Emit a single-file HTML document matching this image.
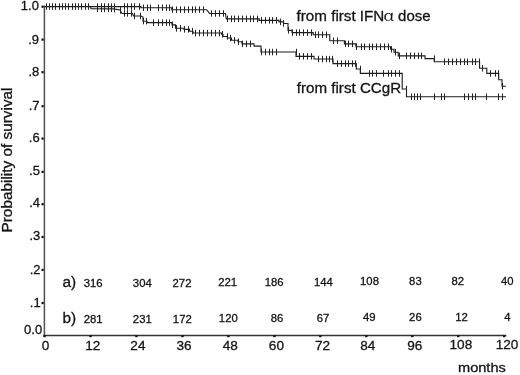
<!DOCTYPE html>
<html><head><meta charset="utf-8"><title>Survival</title>
<style>
html,body{margin:0;padding:0;background:#fff;}
svg{display:block;font-family:"Liberation Sans",sans-serif;fill:#141414;}
.c{fill:none;stroke:#1c1c1c;stroke-width:1.1;}
.t{fill:none;stroke:#222;stroke-width:1;}
.ay{fill:none;stroke:#505050;stroke-width:1.5;}
.ax{fill:none;stroke:#333;stroke-width:1.5;}
.d{fill:#111;}
.tl{font-size:13px;}
.xl{font-size:13.6px;}
text{stroke:#141414;stroke-width:0.3px;}
.m{font-size:13.4px;}
.yl{font-size:13.8px;}
.lb{font-size:15.4px;}
.n{font-size:11.3px;}
.al{font-size:15.4px;font-family:"Noto Serif CJK SC","Liberation Serif",serif;stroke-width:0.15px;}
</style></head><body>
<svg width="520" height="375" viewBox="0 0 520 375">
<path d="M44.4,5.5 V336.2" class="ay"/>
<path d="M43.6,335.5 H506.3" class="ax"/>
<path d="M44.4,6.6 L141,6.6 L141,7.8 L171.7,7.8 L171.7,9.7 L206.5,9.7 L208,11.4 L209.5,13.5 L225.5,13.5 L226.3,18.9 L259.2,18.9 L259.2,20.4 L279,20.4 L279,21.9 L283.6,21.9 L283.6,23.5 L288,23.5 L288,30.4 L292,30.4 L292,32.6 L313.2,32.6 L313.2,34.8 L329.8,34.8 L329.8,40.7 L344.4,40.7 L344.4,43.9 L355.9,43.9 L355.9,46.7 L390.6,46.7 L390.6,49.2 L394,49.2 L394,52.2 L398.2,52.2 L398.2,55.9 L425,55.9 L425,58.6 L434.2,58.6 L434.2,61.8 L479.6,61.8 L479.6,68.2 L486.8,68.2 L486.8,73.4 L498.7,73.4 L498.7,79.8 L502,79.8 L502,86.2 L506,86.2" class="c"/>
<path d="M90.5,6.6 L91,8.8 L113.5,8.9 L120,10 L122,13.5 L132.5,13.5 L133.6,16 L141,16 L143,17 L143,21.2 L147,21.2 L147,22.6 L172,22.6 L172,24.9 L175.5,24.9 L175.5,28.3 L184,28.3 L184,29.4 L189.5,29.4 L189.5,31.2 L193,31.2 L193,33 L221.5,33 L221.5,34.2 L223,34.2 L223,36.5 L227.3,36.5 L227.3,38 L231.5,38 L231.5,40.2 L238,40.2 L238,41.7 L242,41.7 L242,43.9 L254,43.9 L254,46.1 L261,46.1 L261,52 L296,52 L296,56.4 L314,56.4 L314,59 L333,59 L333,63.6 L356.3,63.6 L356.3,69 L360.3,69 L360.3,73.4 L402.2,73.4 L402.2,89 L406.5,89 L406.5,96.8 L506,96.8" class="c"/>
<path d="M46.5,3.3v6.5M49.5,3.3v6.5M52.5,3.3v6.5M55.5,3.3v6.5M59.5,3.3v6.5M62.5,3.3v6.5M65.5,3.3v6.5M68.5,3.3v6.5M72.5,3.3v6.5M75.5,3.3v6.5M78.5,3.3v6.5M81.5,3.3v6.5M85.5,3.3v6.5M88.5,3.3v6.5M97.5,3.3v6.5M101.5,3.3v6.5M104.5,3.3v6.5M108.5,3.3v6.5M111.5,3.3v6.5M114.5,3.3v6.5M124.5,3.3v6.5M127.5,3.3v6.5M131.5,3.3v6.5M134.5,3.3v6.5M139.5,3.3v6.5M143.5,4.5v6.5M147.5,4.5v6.5M150.5,4.5v6.5M158.5,4.5v6.5M162.5,4.5v6.5M166.5,4.5v6.5M169.5,4.5v6.5M172.5,6.4v6.5M176.5,6.4v6.5M180.5,6.4v6.5M184.5,6.4v6.5M188.5,6.4v6.5M192.5,6.4v6.5M195.5,6.4v6.5M199.5,6.4v6.5M203.5,6.4v6.5M211.5,10.2v6.5M215.5,10.2v6.5M219.5,10.2v6.5M223.5,10.2v6.5M227.5,15.6v6.5M231.5,15.6v6.5M234.5,15.6v6.5M238.5,15.6v6.5M242.5,15.6v6.5M246.5,15.6v6.5M250.5,15.6v6.5M253.5,15.6v6.5M257.5,15.6v6.5M261.5,17.1v6.5M265.5,17.1v6.5M269.5,17.1v6.5M272.5,17.1v6.5M276.5,17.1v6.5M280.5,18.6v6.5M283.5,20.2v6.5M288.5,27.1v6.5M292.5,29.4v6.5M296.5,29.4v6.5M299.5,29.4v6.5M303.5,29.4v6.5M307.5,29.4v6.5M311.5,29.4v6.5M315.5,31.5v6.5M318.5,31.5v6.5M322.5,31.5v6.5M326.5,31.5v6.5M333.5,37.5v6.5M337.5,37.5v6.5M345.5,40.6v6.5M348.5,40.6v6.5M352.5,40.6v6.5M356.5,43.5v6.5M361.5,43.5v6.5M364.5,43.5v6.5M369.5,43.5v6.5M372.5,43.5v6.5M376.5,43.5v6.5M380.5,43.5v6.5M384.5,43.5v6.5M388.5,43.5v6.5M391.5,46.0v6.5M395.5,49.0v6.5M399.5,52.6v6.5M406.5,52.6v6.5M410.5,52.6v6.5M414.5,52.6v6.5M418.5,52.6v6.5M421.5,52.6v6.5M434.5,55.4v6.5M444.5,58.5v6.5M448.5,58.5v6.5M452.5,58.5v6.5M456.5,58.5v6.5M460.5,58.5v6.5M464.5,58.5v6.5M467.5,58.5v6.5M472.5,58.5v6.5M475.5,58.5v6.5M479.5,58.5v6.5M482.5,65.0v6.5M490.5,70.2v6.5M495.5,70.2v6.5M498.5,70.2v6.5M502.5,83.0v6.5" class="t"/>
<path d="M97.5,5.6v6.5M101.5,5.6v6.5M104.5,5.6v6.5M108.5,5.6v6.5M111.5,5.6v6.5M114.5,5.9v6.5M120.5,7.1v6.5M124.5,10.2v6.5M127.5,10.2v6.5M131.5,10.2v6.5M134.5,12.8v6.5M140.5,12.8v6.5M143.5,17.9v6.5M146.5,17.9v6.5M153.5,19.4v6.5M158.5,19.4v6.5M162.5,19.4v6.5M166.5,19.4v6.5M169.5,19.4v6.5M172.5,21.6v6.5M176.5,25.1v6.5M180.5,25.1v6.5M184.5,26.1v6.5M188.5,26.1v6.5M192.5,27.9v6.5M195.5,29.8v6.5M199.5,29.8v6.5M203.5,29.8v6.5M207.5,29.8v6.5M211.5,29.8v6.5M215.5,29.8v6.5M219.5,29.8v6.5M222.5,31.0v6.5M227.5,33.2v6.5M230.5,34.8v6.5M234.5,37.0v6.5M238.5,38.5v6.5M242.5,40.6v6.5M246.5,40.6v6.5M250.5,40.6v6.5M261.5,48.8v6.5M265.5,48.8v6.5M269.5,48.8v6.5M272.5,48.8v6.5M276.5,48.8v6.5M296.5,48.8v6.5M299.5,53.1v6.5M303.5,53.1v6.5M307.5,53.1v6.5M311.5,53.1v6.5M318.5,55.8v6.5M322.5,55.8v6.5M326.5,55.8v6.5M329.5,55.8v6.5M332.5,55.8v6.5M337.5,60.4v6.5M341.5,60.4v6.5M345.5,60.4v6.5M348.5,60.4v6.5M352.5,60.4v6.5M355.5,60.4v6.5M360.5,65.8v6.5M369.5,70.2v6.5M372.5,70.2v6.5M376.5,70.2v6.5M383.5,70.2v6.5M388.5,70.2v6.5M391.5,70.2v6.5M395.5,70.2v6.5M399.5,70.2v6.5M406.5,85.8v6.5M411.5,93.5v6.5M414.5,93.5v6.5M417.5,93.5v6.5M420.5,93.5v6.5M434.5,93.5v6.5M441.5,93.5v6.5M444.5,93.5v6.5M464.5,93.5v6.5M468.5,93.5v6.5M472.5,93.5v6.5M475.5,93.5v6.5M486.5,93.5v6.5M498.5,93.5v6.5M502.5,93.5v6.5" class="t"/>
<text x="42.2" y="333.8" text-anchor="end" class="tl">0.0</text><text x="40.7" y="306.6" text-anchor="end" class="tl">.1</text><text x="40.5" y="273.7" text-anchor="end" class="tl">.2</text><text x="40.3" y="240.3" text-anchor="end" class="tl">.3</text><text x="40.1" y="207.2" text-anchor="end" class="tl">.4</text><text x="39.9" y="175.2" text-anchor="end" class="tl">.5</text><text x="39.7" y="141.9" text-anchor="end" class="tl">.6</text><text x="39.5" y="109.5" text-anchor="end" class="tl">.7</text><text x="39.3" y="76.0" text-anchor="end" class="tl">.8</text><text x="39.1" y="43.5" text-anchor="end" class="tl">.9</text><text x="38.9" y="9.9" text-anchor="end" class="tl">1.0</text>
<g class="d"><rect x="41.5" y="301.9" width="2.2" height="2.2"/><rect x="41.5" y="268.8" width="2.2" height="2.2"/><rect x="41.5" y="235.9" width="2.2" height="2.2"/><rect x="41.5" y="203.1" width="2.2" height="2.2"/><rect x="41.5" y="170.8" width="2.2" height="2.2"/><rect x="41.5" y="137.5" width="2.2" height="2.2"/><rect x="41.5" y="105.1" width="2.2" height="2.2"/><rect x="41.5" y="71.1" width="2.2" height="2.2"/><rect x="41.5" y="38.5" width="2.2" height="2.2"/><rect x="41.5" y="5.6" width="2.2" height="2.2"/><rect x="43.3" y="335.3" width="2.4" height="1.9"/><rect x="89.3" y="335.3" width="2.4" height="1.9"/><rect x="135.2" y="335.3" width="2.4" height="1.9"/><rect x="181.2" y="335.3" width="2.4" height="1.9"/><rect x="227.2" y="335.3" width="2.4" height="1.9"/><rect x="273.2" y="335.3" width="2.4" height="1.9"/><rect x="319.1" y="335.3" width="2.4" height="1.9"/><rect x="365.1" y="335.3" width="2.4" height="1.9"/><rect x="411.1" y="335.3" width="2.4" height="1.9"/><rect x="457.0" y="335.3" width="2.4" height="1.9"/><rect x="503.0" y="335.3" width="2.4" height="1.9"/></g>
<text x="45.6" y="350.2" text-anchor="middle" class="xl">0</text><text x="92.8" y="350.2" text-anchor="middle" class="xl">12</text><text x="137.9" y="350.2" text-anchor="middle" class="xl">24</text><text x="184.0" y="350.2" text-anchor="middle" class="xl">36</text><text x="230.2" y="350.2" text-anchor="middle" class="xl">48</text><text x="276.4" y="350.2" text-anchor="middle" class="xl">60</text><text x="322.5" y="350.2" text-anchor="middle" class="xl">72</text><text x="367.8" y="350.2" text-anchor="middle" class="xl">84</text><text x="414.8" y="349.7" text-anchor="middle" class="xl">96</text><text x="460.9" y="349.0" text-anchor="middle" class="xl">108</text><text x="507.1" y="349.0" text-anchor="middle" class="xl">120</text>
<text x="458" y="372.3" textLength="47.8" lengthAdjust="spacingAndGlyphs" class="m">months</text>
<text transform="translate(11.7,232.5) rotate(-90)" textLength="145" lengthAdjust="spacingAndGlyphs" class="yl">Probability of survival</text>
<text x="296.6" y="20.8" textLength="87.7" lengthAdjust="spacingAndGlyphs" class="lb">from first IFN</text>
<text x="383.5" y="20.8" textLength="10.8" lengthAdjust="spacingAndGlyphs" class="al">α</text>
<text x="398.1" y="20.8" textLength="32.5" lengthAdjust="spacingAndGlyphs" class="lb">dose</text>
<text x="296.8" y="93" textLength="104.3" lengthAdjust="spacingAndGlyphs" class="lb">from first CCgR</text>
<text x="62.4" y="287.4" class="lb">a)</text>
<text x="62.4" y="323.4" class="lb">b)</text>
<text x="93.1" y="287.2" text-anchor="middle" class="n">316</text>
<text x="142.3" y="286.9" text-anchor="middle" class="n">304</text>
<text x="182" y="286.6" text-anchor="middle" class="n">272</text>
<text x="227.7" y="286.3" text-anchor="middle" class="n">221</text>
<text x="274.2" y="286.0" text-anchor="middle" class="n">186</text>
<text x="323.4" y="285.7" text-anchor="middle" class="n">144</text>
<text x="369.5" y="285.4" text-anchor="middle" class="n">108</text>
<text x="415.4" y="285.1" text-anchor="middle" class="n">83</text>
<text x="457.8" y="284.8" text-anchor="middle" class="n">82</text>
<text x="507.2" y="284.5" text-anchor="middle" class="n">40</text>
<text x="93.1" y="323.2" text-anchor="middle" class="n">281</text>
<text x="142.3" y="322.9" text-anchor="middle" class="n">231</text>
<text x="182.3" y="322.6" text-anchor="middle" class="n">172</text>
<text x="228.3" y="322.3" text-anchor="middle" class="n">120</text>
<text x="277" y="322.0" text-anchor="middle" class="n">86</text>
<text x="323" y="321.7" text-anchor="middle" class="n">67</text>
<text x="369.2" y="321.4" text-anchor="middle" class="n">49</text>
<text x="415.4" y="321.1" text-anchor="middle" class="n">26</text>
<text x="461.5" y="320.8" text-anchor="middle" class="n">12</text>
<text x="507.3" y="320.5" text-anchor="middle" class="n">4</text>
</svg>
</body></html>
